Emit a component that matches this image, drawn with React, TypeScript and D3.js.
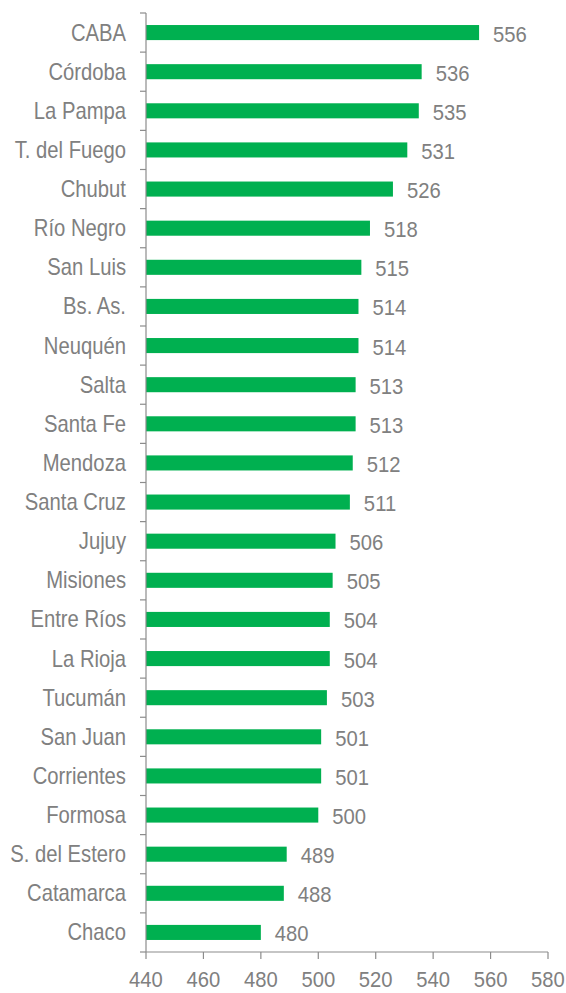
import React from "react";
import * as d3 from "d3";

const categories = ["CABA","Córdoba","La Pampa","T. del Fuego","Chubut","Río Negro","San Luis","Bs. As.","Neuquén","Salta","Santa Fe","Mendoza","Santa Cruz","Jujuy","Misiones","Entre Ríos","La Rioja","Tucumán","San Juan","Corrientes","Formosa","S. del Estero","Catamarca","Chaco"];
const values = [556,536,535,531,526,518,515,514,514,513,513,512,511,506,505,504,504,503,501,501,500,489,488,480];
const xTicks = [440,460,480,500,520,540,560,580];

const W = 566, H = 993;
const left = 146, right = 548, top = 13, bottom = 952;
const FONT = "'Liberation Sans', Arial, sans-serif";
const TEXT = "#808080";
const AXIS = "#8c8c8c";
const BAR = "#00b050";

export default function App() {
  const x = d3.scaleLinear().domain([440, 580]).range([left, right]);
  const y = d3.scaleBand().domain(categories).range([top, bottom]).paddingInner(0.615).paddingOuter(0.3075);
  const step = y.step();
  return (
    <svg width={W} height={H} style={{ position: "absolute", left: 0, top: 0 }}>
      {categories.map((c, i) => {
        const yy = y(c)!;
        const cy = yy + y.bandwidth() / 2;
        return (
          <g key={c}>
            <rect x={x(440)} y={yy} width={x(values[i]) - x(440)} height={y.bandwidth()} fill={BAR} />
            <text transform={`translate(${x(values[i]) + 14},${cy + 9}) scale(0.9,1)`} fontFamily={FONT} fontSize={22.5} fill={TEXT}>{values[i]}</text>
            <text transform={`translate(126,${cy + 8}) scale(0.88,1)`} textAnchor="end" fontFamily={FONT} fontSize={23} fill={TEXT}>{c}</text>
          </g>
        );
      })}
      {d3.range(categories.length + 1).map(i => (
        <line key={"yt" + i} x1={left - 6} x2={left} y1={top + i * step} y2={top + i * step} stroke={AXIS} strokeWidth={1.2} />
      ))}
      <line x1={left} x2={left} y1={top} y2={bottom} stroke={AXIS} strokeWidth={1.2} />
      <line x1={left} x2={right} y1={bottom} y2={bottom} stroke={AXIS} strokeWidth={1.2} />
      {xTicks.map(t => (
        <g key={t}>
          <line x1={x(t)} x2={x(t)} y1={bottom} y2={bottom + 7} stroke={AXIS} strokeWidth={1.2} />
          <text transform={`translate(${x(t)},${bottom + 35}) scale(0.92,1)`} textAnchor="middle" fontFamily={FONT} fontSize={22} fill={TEXT}>{t}</text>
        </g>
      ))}
    </svg>
  );
}
